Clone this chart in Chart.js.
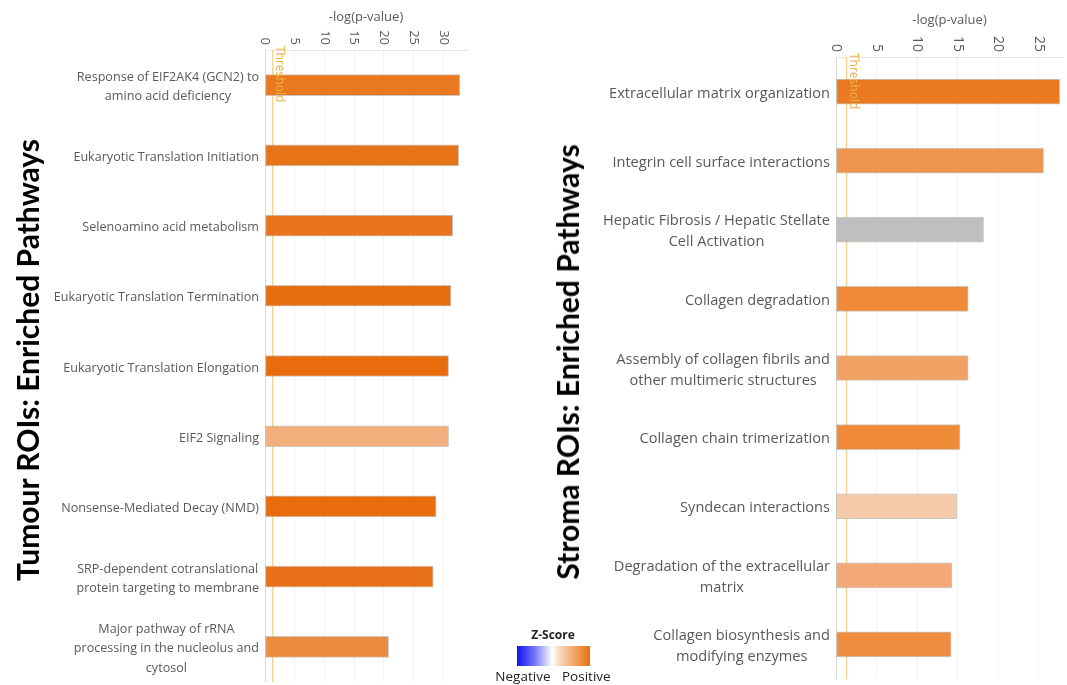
<!DOCTYPE html>
<html>
<head>
<meta charset="utf-8">
<script src="https://cdn.jsdelivr.net/npm/chart.js@4"></script>
<style>
  body { margin: 0; background: #fff; width: 1067px; height: 685px; position: relative; overflow: hidden; font-family: 'Open Sans', sans-serif; }
  canvas { position: absolute; top: 0; }
  .side-title { position: absolute; transform: translate(-50%, -50%) rotate(-90deg); white-space: nowrap; font-family: Lato, sans-serif; font-weight: bold; font-size: 30px; color: #000; }
  #zlegend { position: absolute; left: 488px; top: 627px; width: 130px; text-align: center; color: #222; }
  #zlegend .zt { font-weight: bold; font-size: 12px; line-height: 16px; }
  #zlegend .zbar { margin: 3px auto 0; width: 73px; height: 20px; background: linear-gradient(to right, #1010f0 0%, #7a7af8 25%, #ffffff 48%, #f8d4b4 60%, #e8700f 100%); }
  #zlegend .zl { font-size: 13.5px; line-height: 18px; margin-top: 1px; word-spacing: 8px; }
</style>
</head>
<body>
<canvas id="tumour" width="480" height="685" style="left:0"></canvas>
<canvas id="stroma" width="587" height="685" style="left:480px"></canvas>
<div class="side-title" style="left:27px; top:360px">Tumour ROIs: Enriched Pathways</div>
<div class="side-title" style="left:567px; top:362px">Stroma ROIs: Enriched Pathways</div>
<div id="zlegend">
  <div class="zt">Z-Score</div>
  <div class="zbar"></div>
  <div class="zl">Negative Positive</div>
</div>
<script>
// -log(p-value) of the enriched pathways
const tumourPathways = [
  ['Response of EIF2AK4 (GCN2) to', 'amino acid deficiency'],
  ['Eukaryotic Translation Initiation'],
  ['Selenoamino acid metabolism'],
  ['Eukaryotic Translation Termination'],
  ['Eukaryotic Translation Elongation'],
  ['EIF2 Signaling'],
  ['Nonsense-Mediated Decay (NMD)'],
  ['SRP-dependent cotranslational', 'protein targeting to membrane'],
  ['Major pathway of rRNA', 'processing in the nucleolus and', 'cytosol']
];
const tumourValues = [32.8, 32.6, 31.6, 31.3, 30.9, 30.9, 28.8, 28.3, 20.8];
const tumourColors = ['#e97820', '#e8741a', '#e9741c', '#e86e10', '#e86c0c', '#f2ae7c', '#e86c0c', '#e9701a', '#ec8a3e'];

const stromaPathways = [
  ['Extracellular matrix organization'],
  ['Integrin cell surface interactions'],
  ['Hepatic Fibrosis / Hepatic Stellate', 'Cell Activation'],
  ['Collagen degradation'],
  ['Assembly of collagen fibrils and', 'other multimeric structures'],
  ['Collagen chain trimerization'],
  ['Syndecan interactions'],
  ['Degradation of the extracellular', 'matrix'],
  ['Collagen biosynthesis and', 'modifying enzymes']
];
const stromaValues = [27.6, 25.6, 18.2, 16.3, 16.3, 15.3, 14.9, 14.3, 14.2];
const stromaColors = ['#ea7a22', '#ef9550', '#bfbfbf', '#ee8a38', '#f0a060', '#ee8a38', '#f6cbaa', '#f2a877', '#ef8c40'];

const threshold = 1.3;

const extras = {
  id: 'extras',
  beforeDatasetsDraw(chart, args, o) {
    const { ctx, chartArea, scales: { x } } = chart;
    const tx = x.getPixelForValue(threshold);
    ctx.save();
    ctx.strokeStyle = '#f7d592';
    ctx.lineWidth = 1.5;
    ctx.beginPath();
    ctx.moveTo(tx, chartArea.top);
    ctx.lineTo(tx, chartArea.bottom);
    ctx.stroke();
    ctx.restore();
  },
  afterDraw(chart, args, o) {
    const { ctx, chartArea, scales: { x, y } } = chart;
    ctx.save();
    // x tick labels, turned clockwise
    ctx.fillStyle = '#595959';
    ctx.font = o.tickSize + 'px "Open Sans"';
    x.ticks.forEach(t => {
      ctx.save();
      ctx.translate(x.getPixelForValue(t.value), chartArea.top - 5);
      ctx.rotate(Math.PI / 2);
      ctx.textAlign = 'right';
      ctx.textBaseline = 'middle';
      ctx.fillText(String(t.value), 0, 0);
      ctx.restore();
    });
    // threshold label
    ctx.save();
    ctx.fillStyle = '#f0b040';
    ctx.font = '12px "Open Sans"';
    ctx.translate(x.getPixelForValue(threshold) + 3, chartArea.top - 4);
    ctx.rotate(Math.PI / 2);
    ctx.textAlign = 'left';
    ctx.textBaseline = 'alphabetic';
    ctx.fillText('Threshold', 0, 0);
    ctx.restore();
    // pathway names, each block centred and right-aligned to the axis
    ctx.font = o.labelSize + 'px "Open Sans"';
    ctx.fillStyle = '#595959';
    ctx.textAlign = 'center';
    ctx.textBaseline = 'middle';
    chart.data.labels.forEach((lines, i) => {
      const w = Math.max(...lines.map(l => ctx.measureText(l).width));
      const cx = chartArea.left - 6 - w / 2;
      const cy = y.getPixelForValue(i) + 2;
      lines.forEach((l, k) => {
        ctx.fillText(l, cx, cy + (k - (lines.length - 1) / 2) * o.lineHeight);
      });
    });
    ctx.restore();
  }
};

const makeChart = (id, labels, values, colors, cfg) => {
  const ctx = document.getElementById(id).getContext('2d');
  return new Chart(ctx, {
    type: 'bar',
    data: {
      labels: labels,
      datasets: [{
        data: values,
        backgroundColor: colors,
        borderColor: 'rgba(170,160,150,0.6)',
        borderWidth: 1,
        borderSkipped: false,
        barThickness: cfg.barThickness
      }]
    },
    options: {
      indexAxis: 'y',
      responsive: false,
      animation: false,
      layout: { padding: cfg.padding },
      plugins: {
        legend: { display: false },
        tooltip: { enabled: false },
        extras: cfg.extras
      },
      scales: {
        x: {
          position: 'top',
          min: 0,
          max: cfg.max,
          ticks: { display: false, stepSize: 5 },
          afterBuildTicks: s => { s.ticks = s.ticks.filter(t => t.value % 5 === 0); },
          grid: {
            drawTicks: false,
            color: c => (c.tick && c.tick.value === 0 ? '#d9d9d9' : '#f2f2f2')
          },
          border: { display: true, color: '#e8e8e8' },
          title: {
            display: true,
            text: '-log(p-value)',
            color: '#595959',
            font: { family: 'Open Sans', size: 13 },
            padding: { top: 0, bottom: 0 }
          },
          afterFit: s => { s.height = cfg.axisHeight; }
        },
        y: {
          display: false,
          grid: { display: false }
        }
      }
    },
    plugins: [extras]
  });
};

makeChart('tumour', tumourPathways, tumourValues, tumourColors, {
  max: 34,
  barThickness: 21,
  axisHeight: 41,
  padding: { left: 265, right: 13, top: 9, bottom: 3 },
  extras: { tickSize: 13, labelSize: 12.6, lineHeight: 19.5 }
});

makeChart('stroma', stromaPathways, stromaValues, stromaColors, {
  max: 28,
  barThickness: 25,
  axisHeight: 45,
  padding: { left: 356, right: 4, top: 12, bottom: 6 },
  extras: { tickSize: 14, labelSize: 14.6, lineHeight: 21 }
});
</script>
</body>
</html>
